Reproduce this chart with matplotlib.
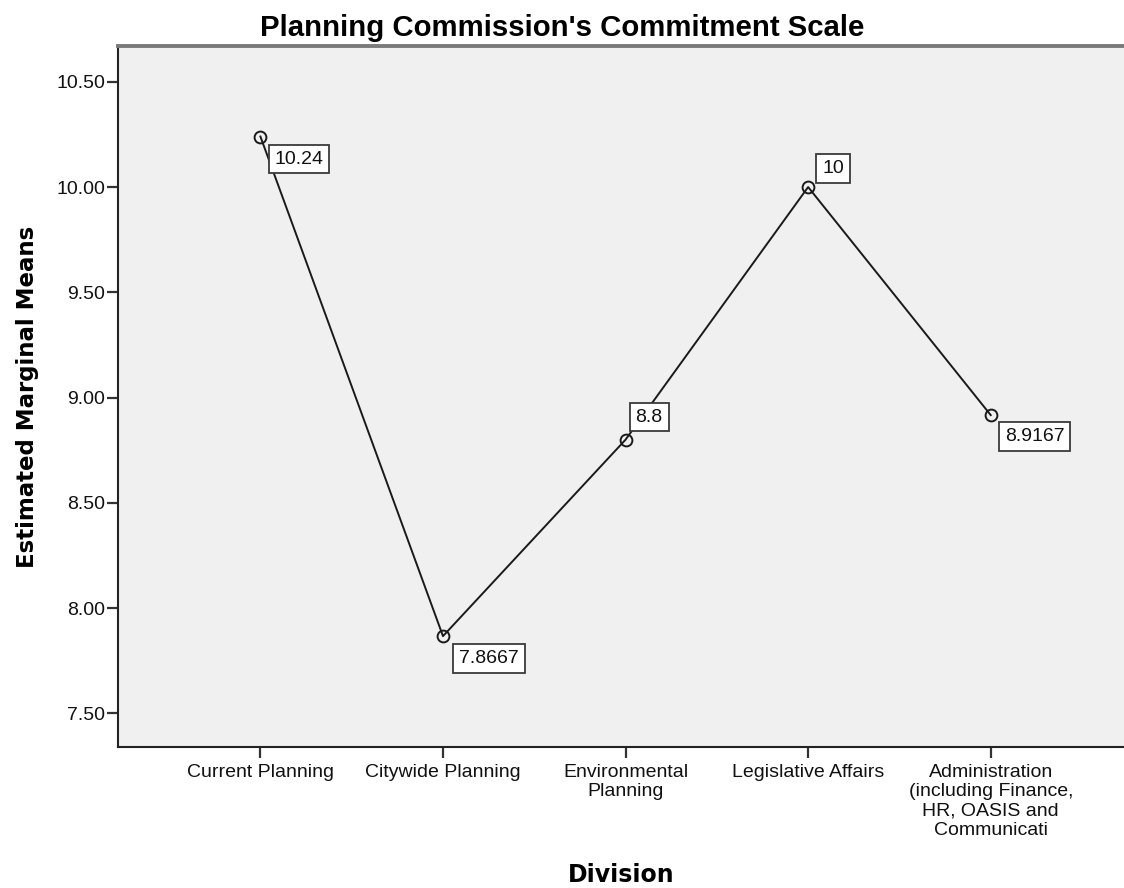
import matplotlib.pyplot as plt
from matplotlib.ticker import FormatStrFormatter

plt.rcParams['font.family'] = ['Liberation Sans', 'DejaVu Sans']

# estimated marginal means per division
divisions = ['Current Planning', 'Citywide Planning', 'Environmental\nPlanning',
             'Legislative Affairs',
             'Administration\n(including Finance,\nHR, OASIS and\nCommunicati']
means = [10.24, 7.8667, 8.8, 10, 8.9167]
value_labels = ['10.24', '7.8667', '8.8', '10', '8.9167']
yticks = [7.50, 8.00, 8.50, 9.00, 9.50, 10.00, 10.50]

fig = plt.figure(figsize=(11.24, 8.88), dpi=100)
ax_left, ax_bottom = 118/1124, 1 - 747/888
ax = fig.add_axes([ax_left, ax_bottom, 1 - ax_left, (747 - 46)/888])
ax.set_facecolor('#F0F0F0')

x = list(range(len(divisions)))
ax.plot(x, means, color='#1a1a1a', lw=1.4, marker='o', ms=8.5,
        mfc='none', mec='#1a1a1a', mew=1.4, zorder=3)

# label placement (pixels): below-right for most, above-right for two
offsets = [(14, -14), (16, -14), (10, 14), (14, 10), (14, -13)]
for xi, yi, lab, off in zip(x, means, value_labels, offsets):
    ax.annotate(lab, (xi, yi), xytext=off, textcoords='offset pixels',
                ha='left', va='top' if off[1] < 0 else 'bottom', fontsize=14,
                color='#111111', zorder=4,
                bbox=dict(boxstyle='square,pad=0.3', fc='white', ec='#3a3a3a', lw=1.3))

ax.set_xlim(-0.78, 4.73)
ax.set_ylim(7.34, 10.67)
ax.set_xticks(x)
ax.set_xticklabels(divisions, fontsize=14, linespacing=1.18, color='#111111')
ax.set_yticks(yticks)
ax.yaxis.set_major_formatter(FormatStrFormatter('%.2f'))
ax.tick_params(axis='y', labelsize=14, length=8, width=1.6, color='#333333',
               pad=1, labelcolor='#111111')
ax.tick_params(axis='x', length=8, width=1.6, color='#333333', pad=4)

for side in ['left', 'bottom']:
    ax.spines[side].set_color('#222222')
    ax.spines[side].set_linewidth(1.5)
ax.spines['top'].set_color('#7a7a7a')
ax.spines['top'].set_linewidth(2.8)
ax.spines['right'].set_visible(False)

ax.set_ylabel('Estimated Marginal Means', fontsize=16.5, fontweight='bold',
              family='DejaVu Sans', labelpad=13)
# x label sits centred under the axes, near the bottom edge
fig.text((ax_left + 1) / 2, 1 - 882/888, 'Division', ha='center', va='baseline',
         fontsize=17, fontweight='bold', family='DejaVu Sans')
fig.text(0.5, 1 - 36/888, "Planning Commission's Commitment Scale", ha='center',
         va='baseline', fontsize=21.2, fontweight='bold')

fig.savefig('out.png', dpi=100, facecolor='white')
